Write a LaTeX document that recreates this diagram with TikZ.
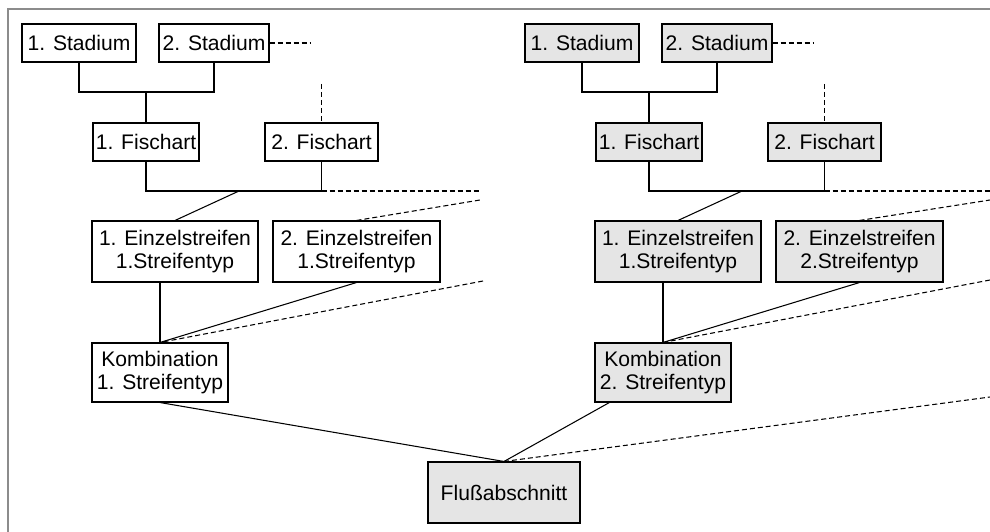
\documentclass[tikz,border=0pt]{standalone}
\usepackage{fontspec}
\setmainfont{Liberation Sans}
\tikzset{
  box/.style={draw, align=center, inner sep=0pt, minimum height=7.6mm,
    font=\fontsize{12pt}{13.4pt}\selectfont},
  tall/.style={box, minimum height=12.2mm},
  grey/.style={fill=black!10},
  etc/.style={dash pattern=on 1mm off 0.6mm},
  frame/.style={draw=black!45, line width=1.2pt}
}
\begin{document}
\begin{tikzpicture}[x=0.2mm, y=-0.2mm, line width=0.6pt]
        \useasboundingbox (0,0) rectangle (990,532);
        \draw[frame] (8,532) -- (8,9) -- (990,9);

        % left tree
        \node[box, minimum width=22.8mm] (lst1) at (79,43) {1. Stadium};
        \node[box, minimum width=22mm] (lst2) at (214,43) {2. Stadium};
        \node[box, minimum width=21.2mm] (lfi1) at (146,142) {1. Fischart};
        \node[box, minimum width=22.6mm] (lfi2) at (321.5,142) {2. Fischart};
        \node[tall, minimum width=33.2mm] (lei1) at (175,251.5) {1. Einzelstreifen\\1.Streifentyp};
        \node[tall, minimum width=33.4mm] (lei2) at (356.5,251.5) {2. Einzelstreifen\\1.Streifentyp};
        \node[tall, minimum width=27.2mm, minimum height=11.8mm] (lko) at (160,372.5) {Kombination\\1. Streifentyp};

        \coordinate (lj1) at (146,92);
        \coordinate (lj2) at (239,191);
        \coordinate (le1) at (310,43);
        \coordinate (le2) at (321.5,84);
        \coordinate (le3) at (480,191);
        \coordinate (le4) at (480,200);
        \coordinate (le5) at (483,281);

        \draw (lst1.south) |- (lj1) -| (lst2.south);
        \draw (lj1) -- (lfi1.north);
        \draw (lfi1.south) |- (lj2) -| (lfi2.south);
        \draw (lj2) -- (lei1.north);
        \draw (lko.north) -- (lko.north |- lei1.south);
        \draw (lei2.south) -- (lko.north);
        \draw[etc] (lst2.east) -- (le1);
        \draw[etc] (le2) -- (lfi2.north);
        \draw[etc] (lfi2.south |- lj2) -- (le3);
        \draw[etc] (lei2.north) -- (le4);
        \draw[etc] (le5) -- (lko.north);

        % right tree
        \node[box, grey, minimum width=22.8mm] (rst1) at (582,43) {1. Stadium};
        \node[box, grey, minimum width=22mm] (rst2) at (717,43) {2. Stadium};
        \node[box, grey, minimum width=21.2mm] (rfi1) at (649,142) {1. Fischart};
        \node[box, grey, minimum width=22.6mm] (rfi2) at (824.5,142) {2. Fischart};
        \node[tall, grey, minimum width=33.2mm] (rei1) at (678,251.5) {1. Einzelstreifen\\1.Streifentyp};
        \node[tall, grey, minimum width=33.4mm] (rei2) at (859.5,251.5) {2. Einzelstreifen\\2.Streifentyp};
        \node[tall, grey, minimum width=27.2mm, minimum height=11.8mm] (rko) at (663,372.5) {Kombination\\2. Streifentyp};

        \coordinate (rj1) at (649,92);
        \coordinate (rj2) at (742,191);
        \coordinate (re1) at (813,43);
        \coordinate (re2) at (824.5,84);
        \coordinate (re3) at (990,191);
        \coordinate (re4) at (990,200);
        \coordinate (re5) at (990,280);

        \draw (rst1.south) |- (rj1) -| (rst2.south);
        \draw (rj1) -- (rfi1.north);
        \draw (rfi1.south) |- (rj2) -| (rfi2.south);
        \draw (rj2) -- (rei1.north);
        \draw (rko.north) -- (rko.north |- rei1.south);
        \draw (rei2.south) -- (rko.north);
        \draw[etc] (rst2.east) -- (re1);
        \draw[etc] (re2) -- (rfi2.north);
        \draw[etc] (rfi2.south |- rj2) -- (re3);
        \draw[etc] (rei2.north) -- (re4);
        \draw[etc] (re5) -- (rko.north);

        % river section
        \node[tall, grey, minimum width=30.4mm] (fl) at (504,492.5) {Flußabschnitt};
        \coordinate (fe) at (990,397);

        \draw (lko.south) -- (fl.north);
        \draw (rko) -- (fl.north);
        \draw[etc] (fl.north) -- (fe);

    \end{tikzpicture}
\end{document}
